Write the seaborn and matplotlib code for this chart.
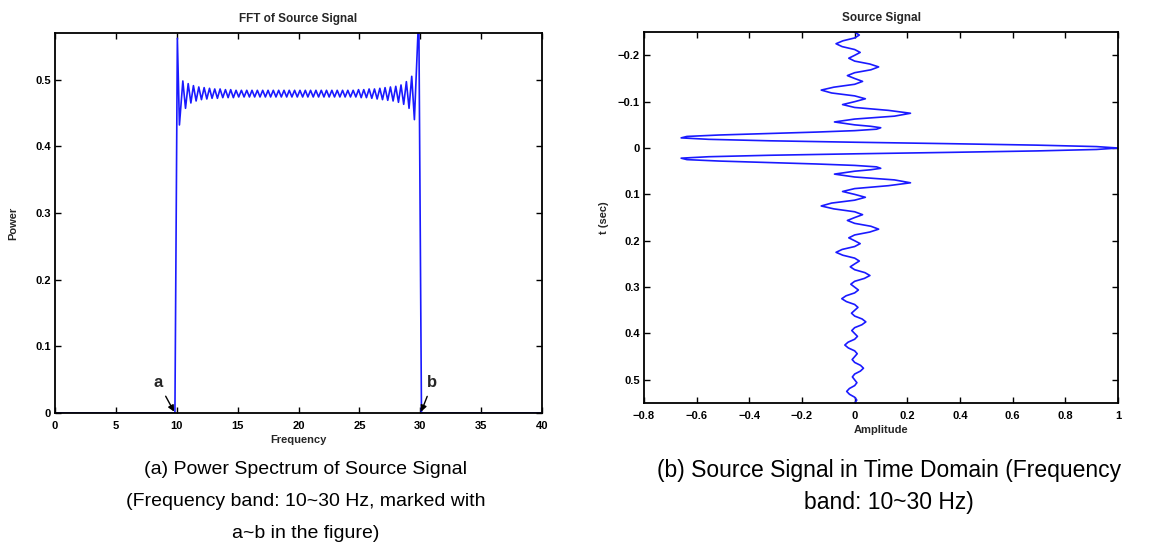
import matplotlib
matplotlib.use("Agg")
import matplotlib.pyplot as plt
import seaborn as sns
import pandas as pd

# ---------------- data: (a) power spectrum ----------------
freq_hz = [0.0, 9.85, 10.05, 10.22,
           10.50, 10.72, 10.94, 11.16, 11.37, 11.59, 11.81, 12.03, 12.25, 12.47,
           12.69, 12.90, 13.12, 13.34, 13.56, 13.78, 14.00, 14.22, 14.43, 14.65,
           14.87, 15.09, 15.31, 15.53, 15.75, 15.97, 16.18, 16.40, 16.62, 16.84,
           17.06, 17.28, 17.50, 17.71, 17.93, 18.15, 18.37, 18.59, 18.81, 19.03,
           19.24, 19.46, 19.68, 19.90, 20.12, 20.34, 20.56, 20.77, 20.99, 21.21,
           21.43, 21.65, 21.87, 22.09, 22.30, 22.52, 22.74, 22.96, 23.18, 23.40,
           23.62, 23.83, 24.05, 24.27, 24.49, 24.71, 24.93, 25.15, 25.36, 25.58,
           25.80, 26.02, 26.24, 26.46, 26.68, 26.90, 27.11, 27.33, 27.55, 27.77,
           27.99, 28.21, 28.42, 28.64, 28.86, 29.08, 29.30, 29.52,
           29.88, 30.10, 40.0]
power = [0.0, 0.0, 0.562, 0.432,
         0.498, 0.457, 0.494, 0.465, 0.491, 0.468, 0.489, 0.470, 0.488, 0.471,
         0.487, 0.472, 0.486, 0.472, 0.486, 0.473, 0.485, 0.473, 0.485, 0.473,
         0.484, 0.474, 0.484, 0.474, 0.484, 0.474, 0.484, 0.474, 0.484, 0.474,
         0.484, 0.474, 0.484, 0.474, 0.484, 0.474, 0.484, 0.474, 0.484, 0.474,
         0.484, 0.474, 0.484, 0.474, 0.484, 0.474, 0.484, 0.474, 0.484, 0.474,
         0.484, 0.474, 0.484, 0.474, 0.484, 0.474, 0.484, 0.474, 0.484, 0.474,
         0.484, 0.474, 0.484, 0.474, 0.484, 0.474, 0.485, 0.473, 0.485, 0.473,
         0.486, 0.472, 0.486, 0.471, 0.487, 0.470, 0.488, 0.469, 0.489, 0.468,
         0.490, 0.466, 0.492, 0.463, 0.497, 0.457, 0.505, 0.440,
         0.600, 0.0, 0.0]

freq_ticks = [0, 5, 10, 15, 20, 25, 30, 35, 40]
power_ticks = [0, 0.1, 0.2, 0.3, 0.4, 0.5]
power_ticklabels = ["0", "0.1", "0.2", "0.3", "0.4", "0.5"]

# ---------------- data: (b) source signal ----------------
t_sec = [
    -0.25, -0.24375, -0.2375, -0.23125, -0.225, -0.21875, -0.2125, -0.20625,
    -0.2, -0.19375, -0.1875, -0.18125, -0.175, -0.16875, -0.1625, -0.15625,
    -0.15, -0.14375, -0.1375, -0.13125, -0.125, -0.11875, -0.1125, -0.10625,
    -0.1, -0.09375, -0.0875, -0.08125, -0.075, -0.06875, -0.0625, -0.05625,
    -0.05, -0.046875, -0.04375, -0.040625, -0.0375, -0.034375, -0.03125, -0.028125,
    -0.025, -0.021875, -0.01875, -0.015625, -0.0125, -0.009375, -0.00625, -0.003125,
    0.0, 0.003125, 0.00625, 0.009375, 0.0125, 0.015625, 0.01875, 0.021875,
    0.025, 0.028125, 0.03125, 0.034375, 0.0375, 0.040625, 0.04375, 0.046875,
    0.05, 0.05625, 0.0625, 0.06875, 0.075, 0.08125, 0.0875, 0.09375,
    0.1, 0.10625, 0.1125, 0.11875, 0.125, 0.13125, 0.1375, 0.14375,
    0.15, 0.15625, 0.1625, 0.16875, 0.175, 0.18125, 0.1875, 0.19375,
    0.2, 0.20625, 0.2125, 0.21875, 0.225, 0.23125, 0.2375, 0.24375,
    0.25, 0.25625, 0.2625, 0.26875, 0.275, 0.28125, 0.2875, 0.29375,
    0.3, 0.30625, 0.3125, 0.31875, 0.325, 0.33125, 0.3375, 0.34375,
    0.35, 0.35625, 0.3625, 0.36875, 0.375, 0.38125, 0.3875, 0.39375,
    0.4, 0.40625, 0.4125, 0.41875, 0.425, 0.43125, 0.4375, 0.44375,
    0.45, 0.45625, 0.4625, 0.46875, 0.475, 0.48125, 0.4875, 0.49375,
    0.5, 0.50625, 0.5125, 0.51875, 0.525, 0.53125, 0.5375, 0.54375, 0.55]
amplitude = [
    0, 0.0177, 0, -0.0449, -0.0707, -0.0475, 0, 0.0209,
    0, -0.0223, 0, 0.0573, 0.091, 0.0616, 0, -0.0276,
    0, 0.030, 0, -0.0792, -0.127, -0.0875, 0, 0.0406,
    0, -0.046, 0, 0.128, 0.212, 0.151, 0, -0.0767,
    0, 0.061, 0.099, 0.083, 0, -0.147, -0.333, -0.513,
    -0.637, -0.659, -0.554, -0.324, 0, 0.361, 0.690, 0.918,
    1.0, 0.918, 0.690, 0.361, 0, -0.324, -0.554, -0.659,
    -0.637, -0.513, -0.333, -0.147, 0, 0.083, 0.099, 0.061,
    0, -0.0767, 0, 0.151, 0.212, 0.128, 0, -0.046,
    0, 0.0406, 0, -0.0875, -0.127, -0.0792, 0, 0.030,
    0, -0.0276, 0, 0.0616, 0.091, 0.0573, 0, -0.0223,
    0, 0.0209, 0, -0.0475, -0.0707, -0.0449, 0, 0.0177,
    0, -0.0168, 0, 0.0387, 0.0579, 0.037, 0, -0.0147,
    0, 0.0141, 0, -0.0326, -0.049, -0.0314, 0, 0.0125,
    0, -0.0121, 0, 0.0282, 0.0424, 0.0273, 0, -0.011,
    0, 0.0106, 0, -0.0248, -0.0374, -0.0241, 0, 0.0097,
    0, -0.0095, 0, 0.0222, 0.0335, 0.0216, 0, -0.0087,
    0, 0.0085, 0, -0.020, -0.0303, -0.0196, 0, 0.0079, 0]

amp_ticks = [-0.8, -0.6, -0.4, -0.2, 0, 0.2, 0.4, 0.6, 0.8, 1.0]
amp_ticklabels = ["\u22120.8", "\u22120.6", "\u22120.4", "\u22120.2", "0",
                  "0.2", "0.4", "0.6", "0.8", "1"]
t_ticks = [-0.2, -0.1, 0, 0.1, 0.2, 0.3, 0.4, 0.5]
t_ticklabels = ["\u22120.2", "\u22120.1", "0", "0.1", "0.2", "0.3", "0.4", "0.5"]

captions_a = ["(a) Power Spectrum of Source Signal",
              "(Frequency band: 10~30 Hz, marked with",
              "a~b in the figure)"]
captions_b = ["(b) Source Signal in Time Domain (Frequency",
              "band: 10~30 Hz)"]

# ---------------- style ----------------
sns.set_style("white")
plt.rcParams["font.family"] = ["Liberation Sans", "DejaVu Sans"]

LINE = "#1a1aff"
fig = plt.figure(figsize=(11.75, 5.56), dpi=100)
ax1 = fig.add_axes([55 / 1175, 0.2572, 487 / 1175, 0.6835])
ax2 = fig.add_axes([644 / 1175, 0.2752, 474 / 1175, 0.667])

spec = pd.DataFrame({"Frequency": freq_hz, "Power": power})
sig = pd.DataFrame({"Amplitude": amplitude, "t": t_sec})

sns.lineplot(data=spec, x="Frequency", y="Power", sort=False, estimator=None,
             color=LINE, linewidth=1.2, ax=ax1)
sns.lineplot(data=sig, x="Amplitude", y="t", sort=False, estimator=None,
             orient="y", color=LINE, linewidth=1.2, ax=ax2)

tick_font = dict(fontsize=8, fontweight="bold")
for ax in (ax1, ax2):
    for s in ax.spines.values():
        s.set_visible(True)
        s.set_color("black")
        s.set_linewidth(1.3)
    ax.tick_params(direction="in", length=4, width=1.0, top=True, right=True,
                   bottom=True, left=True, colors="black", pad=3)
    ax.tick_params(axis="x", pad=6)

ax1.set_xlim(0, 40)
ax1.set_ylim(0, 0.57)
ax1.set_xticks(freq_ticks)
ax1.set_xticklabels([str(v) for v in freq_ticks], **tick_font)
ax1.set_yticks(power_ticks)
ax1.set_yticklabels(power_ticklabels, **tick_font)
ax1.set_xlabel("Frequency", fontsize=8, fontweight="bold", labelpad=3)
ax1.set_ylabel("Power", fontsize=8, fontweight="bold", labelpad=12)
ax1.set_title("FFT of Source Signal", fontsize=8.5, fontweight="bold", pad=8)

ax1.annotate("a", xy=(9.78, 0.002), xytext=(8.5, 0.045), fontsize=12,
             fontweight="bold", ha="center", va="center",
             arrowprops=dict(arrowstyle="-|>", color="black", lw=1.0,
                             mutation_scale=9, shrinkA=2, shrinkB=0))
ax1.annotate("b", xy=(30.08, 0.002), xytext=(31.0, 0.045), fontsize=12,
             fontweight="bold", ha="center", va="center",
             arrowprops=dict(arrowstyle="-|>", color="black", lw=1.0,
                             mutation_scale=9, shrinkA=2, shrinkB=0))

ax2.set_xlim(-0.8, 1.0)
ax2.set_ylim(0.55, -0.25)
ax2.set_xticks(amp_ticks)
ax2.set_xticklabels(amp_ticklabels, **tick_font)
ax2.set_yticks(t_ticks)
ax2.set_yticklabels(t_ticklabels, **tick_font)
ax2.set_xlabel("Amplitude", fontsize=8, fontweight="bold", labelpad=3)
ax2.set_ylabel("t (sec)", fontsize=8, fontweight="bold", labelpad=6)
ax2.set_title("Source Signal", fontsize=8.5, fontweight="bold", pad=8)

cap_font = dict(family=["Liberation Sans", "DejaVu Sans"],
                ha="center", va="center", color="black")
ys = [1 - 470 / 556, 1 - 502 / 556, 1 - 533 / 556]
for y, txt in zip(ys, captions_a):
    fig.text(306 / 1175, y, txt, fontsize=14, **cap_font)
for y, txt in zip(ys, captions_b):
    fig.text(889 / 1175, y, txt, fontsize=16.5, **cap_font)

fig.savefig("out.png", dpi=100)
